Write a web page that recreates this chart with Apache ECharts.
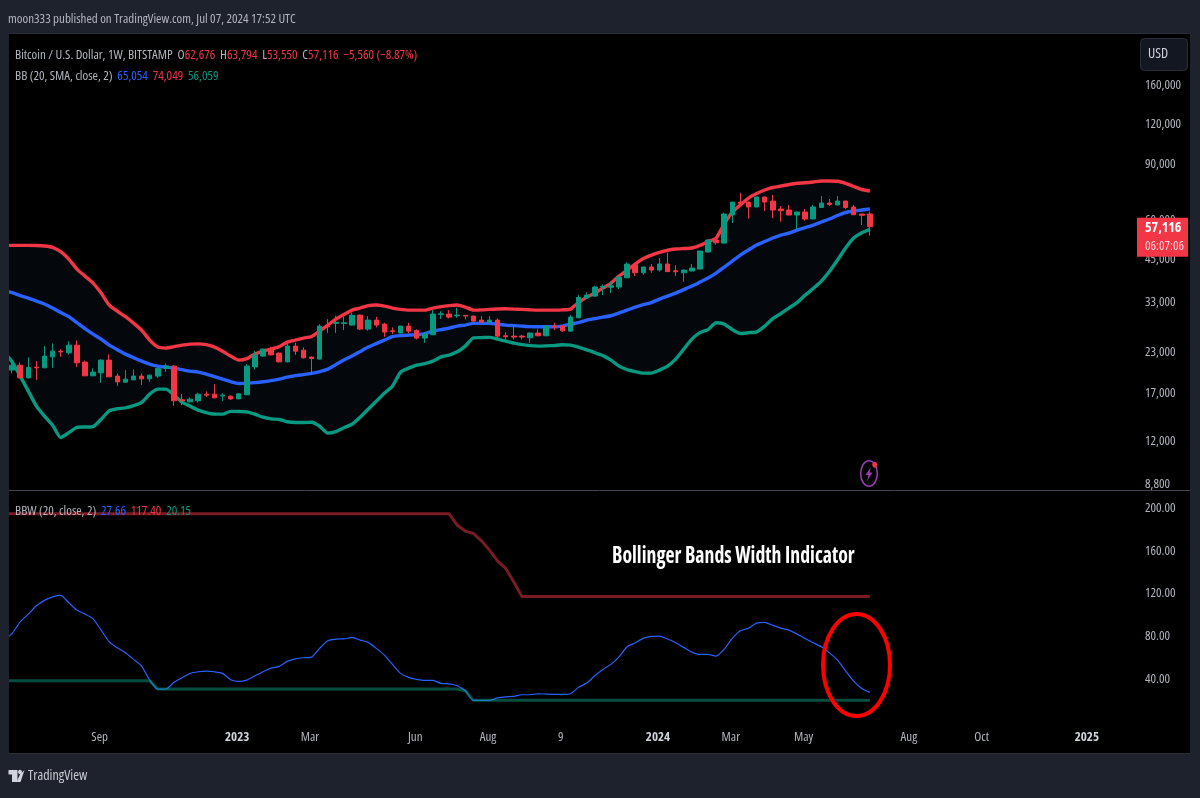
<!DOCTYPE html>
<html>
<head>
<meta charset="utf-8">
<title>BTC/USD weekly with Bollinger Bands and BBW</title>
<style>html,body{margin:0;padding:0;background:#1e222d}#chart{width:1200px;height:798px}</style>
<script src="https://cdn.jsdelivr.net/npm/echarts@6/dist/echarts.min.js"></script>
</head>
<body>
<div id="chart"></div>
<script>
// Weekly bars: [open, close, low, high]
const candles = [
[26600,20550,17600,26900],[20150,20890,19670,21420],[20890,19050,18970,21300],[19050,20550,18970,22100],
[20590,20490,18770,21510],[20490,22310,20490,23990],[22190,23130,20490,24460],[23130,23010,22190,23470],
[22850,24160,22580,24820],[24160,21250,20630,25000],[21360,19330,19300,21620],[19330,19860,19300,20400],
[19760,21670,18370,21800],[21670,19190,19150,22580],[19290,18500,17970,19670],[18460,18870,18420,20150],
[18770,19290,18750,20250],[19290,18910,18100,19670],[18910,19430,18500,19480],[19290,20400,19050,20550],
[20400,20780,19900,21150],[20740,16120,15540,20890],[16240,16120,15620,16920],[16000,16320,15930,16520],
[16120,16920,15930,17100],[16920,16800,16590,17260],[16920,16470,16450,18190],[16710,16800,16120,17020],
[16680,16350,16230,16760],[16350,16960,16330,17050],[16840,20740,16820,21050],[20630,22470,20250,23180],
[22310,23470,22190,23590],[23420,22520,22420,23870],[22800,21400,21300,22910],[21400,23990,21300,24930],
[23990,23130,22520,24570],[23300,22030,21930,23770],[22150,21930,19430,22250],[21830,27750,21750,28150],
[27890,27610,26420,29190],[28300,28510,26420,29910],[28300,28420,26950,29700],[27950,30000,27900,30580],
[30060,27150,27010,30150],[27150,28980,26820,29840],[28980,27950,27490,29700],[28150,26570,25670,28420],
[26810,26700,26180,27490],[26380,27750,26320,27800],[27750,26750,26320,28420],[26890,25430,25190,27090],
[25430,26180,24570,26510],[26050,30280,26000,31170],[30220,30350,29260,30910],[30280,29620,29320,31170],
[29910,30060,29470,31700],[30000,29840,29130,30050],[29840,28770,28620,29900],[28980,28560,28420,29840],
[28560,28980,28540,29840],[28980,25800,25430,29340],[25860,25670,25190,26570],[25800,25620,25190,27890],
[25800,25620,25190,26050],[25490,26380,24570,26510],[26380,25860,25800,27090],[25860,27750,25840,27810],
[27750,27550,26950,28420],[27750,26810,26570,27950],[26750,29620,26700,30060],[29470,34190,29430,34760],
[34020,34760,33790,35430],[34510,36850,34340,37200],[36850,37030,34760,37590],[36780,37200,35270,38290],
[36850,39550,36310,39920],[39440,43560,39270,44120],[43330,40880,39920,43350],[40880,42620,40300,42700],
[42620,41700,40880,43560],[41700,43560,41240,45500],[43560,41220,41200,47280],[41500,41200,39920,43140],
[40880,41700,38290,41900],[41400,42310,41380,43560],[42000,47870,41950,47950],[47520,51860,47300,52110],
[51860,50830,50120,52620],[50750,62650,50490,63250],[62200,68330,58690,68400],[68330,67660,67100,73100],
[68330,65920,60550,68400],[65920,70900,65850,71000],[70900,68330,64040,71000],[68850,64500,60770,71940],
[64970,64180,59250,66400],[64500,62200,62150,66900],[62200,63580,56060,63720],[63580,60420,59680,64970],
[60420,65920,60380,66900],[65700,67880,65650,71420],[67880,67090,66430,69870],[66900,68850,66850,71420],
[68850,65700,65000,68900],[65920,62330,62300,66900],[62650,62080,57840,62700],[62676,57116,53550,63794]
];

// Bollinger Bands (20, SMA, close, 2)
const bbUpper = [
49900,49900,49900,49900,49830,49650,49180,47650,45170,42000,39900,37930,35270,32330,30940,29700,28360,26950,
25060,23820,23650,23900,24160,24340,24390,24250,23820,23130,22310,21670,21910,22630,23130,23470,23900,24700,
25060,25430,25710,26750,27950,29190,30170,31170,31630,32210,32330,32090,31630,31330,31170,31170,31170,31630,
31980,32210,32330,31860,31170,31220,31330,31420,31470,31400,31330,31240,31170,31170,31170,31220,31400,32920,
34250,35270,36580,37860,39920,41700,43560,45330,46500,47450,48150,48570,48750,48930,49900,51300,52620,58260,
63580,66900,70370,72720,74600,75960,76800,77650,78330,78620,79080,79660,79660,79480,78330,76520,74870,74049
];
const bbBasis = [
35920,35400,34640,34020,33280,32570,31630,30610,29730,28460,27250,26180,25250,24160,23380,22630,22070,21510,
21050,20740,20590,20440,20220,20000,19860,19570,19220,18870,18530,18290,18330,18400,18510,18670,18870,19150,
19360,19500,19670,19930,20300,20970,21670,22310,23050,23820,24430,25060,25710,25900,25990,26090,26280,26750,
27050,27350,27750,27950,28300,28300,28300,28150,27950,27850,27750,27650,27610,27610,27610,27750,28150,28460,
28980,29300,29620,29910,30500,31170,31860,32450,32920,33770,34510,35270,36180,37120,38210,39340,40800,42620,
44510,46500,48220,50010,51300,52620,53780,54570,55770,56800,57840,59120,60420,61970,63350,64040,64500,65054
];
const bbLower = [
22960,21400,19290,17300,15510,14420,13500,12350,12790,13300,13330,13370,14100,14980,15220,15310,15560,15930,
16920,17550,17550,16800,15970,15510,15060,14790,14630,14630,14930,14920,14880,14630,14310,14140,14070,13850,
13770,13770,13800,13400,12750,12890,13260,13600,14310,15170,16080,17040,17930,19860,20440,20890,21120,21510,
22190,22470,23010,23990,25480,25520,25560,25250,24880,24520,24250,24070,23990,24040,24110,24220,24160,23820,
23350,22880,22390,21670,20740,20220,19930,19720,19720,20150,20740,21830,23470,25250,26460,27050,28420,28150,
27050,26280,26460,26610,27750,29300,30390,31630,32920,34760,36450,38480,41250,44840,48930,52620,54700,56059
];

// Bollinger Bands Width (20, close, 2) with its expansion and contraction levels
const bbw = [
76.5,82.8,93.6,100.8,108.6,113.7,117.0,118.3,111.4,104.6,100.8,96.4,85.9,74.9,69.3,64.6,58.5,52.2,
39.1,30.7,30.7,37.0,41.3,45.4,46.9,47.5,46.9,45.4,39.4,37.9,39.1,43.1,46.9,50.3,51.9,56.6,
59.0,60.0,60.6,68.8,75.9,77.5,77.7,79.0,76.5,74.4,68.8,62.5,53.8,45.4,41.6,39.8,38.8,38.8,
36.0,35.6,33.8,29.1,20.15,20.15,20.15,22.5,23.5,23.9,25.4,25.4,26.3,26.0,25.7,25.7,26.3,32.3,
36.3,43.1,49.1,53.8,60.9,70.3,74.0,78.1,80.0,80.3,77.5,74.0,69.7,65.3,63.1,63.1,61.6,68.1,
78.1,85.2,87.7,92.4,93.1,90.3,87.7,85.9,82.1,78.1,74.0,70.3,64.6,57.8,47.8,38.2,31.3,27.66
];
const bbwHigh = [
194.7,194.7,194.7,194.7,194.7,194.7,194.7,194.7,194.7,194.7,194.7,194.7,194.7,194.7,194.7,194.7,194.7,194.7,
194.7,194.7,194.7,194.7,194.7,194.7,194.7,194.7,194.7,194.7,194.7,194.7,194.7,194.7,194.7,194.7,194.7,194.7,
194.7,194.7,194.7,194.7,194.7,194.7,194.7,194.7,194.7,194.7,194.7,194.7,194.7,194.7,194.7,194.7,194.7,194.7,
194.7,194.7,184,178.5,176.3,169.4,160.7,150.4,143.6,130.8,117.4,117.4,117.4,117.4,117.4,117.4,117.4,117.4,
117.4,117.4,117.4,117.4,117.4,117.4,117.4,117.4,117.4,117.4,117.4,117.4,117.4,117.4,117.4,117.4,117.4,117.4,
117.4,117.4,117.4,117.4,117.4,117.4,117.4,117.4,117.4,117.4,117.4,117.4,117.4,117.4,117.4,117.4,117.4,117.4
];
const bbwLow = [
38.4,38.4,38.4,38.4,38.4,38.4,38.4,38.4,38.4,38.4,38.4,38.4,38.4,38.4,38.4,38.4,38.4,38.4,
38.4,30.7,30.7,30.7,30.7,30.7,30.7,30.7,30.7,30.7,30.7,30.7,30.7,30.7,30.7,30.7,30.7,30.7,
30.7,30.7,30.7,30.7,30.7,30.7,30.7,30.7,30.7,30.7,30.7,30.7,30.7,30.7,30.7,30.7,30.7,30.7,
30.7,30.7,30.7,29.1,20.15,20.15,20.15,20.15,20.15,20.15,20.15,20.15,20.15,20.15,20.15,20.15,20.15,20.15,
20.15,20.15,20.15,20.15,20.15,20.15,20.15,20.15,20.15,20.15,20.15,20.15,20.15,20.15,20.15,20.15,20.15,20.15,
20.15,20.15,20.15,20.15,20.15,20.15,20.15,20.15,20.15,20.15,20.15,20.15,20.15,20.15,20.15,20.15,20.15,20.15
];

// Axis ticks
const priceTicks = [160000,120000,90000,60000,45000,33000,23000,17000,12000,8800];
const widthTicks = [40,80,120,160,200];
const timeTicks = {
  '2022-09-05':'Sep','2023-01-02':'2023','2023-03-06':'Mar','2023-06-05':'Jun','2023-08-07':'Aug','2023-10-09':'9',
  '2024-01-01':'2024','2024-03-04':'Mar','2024-05-06':'May','2024-08-05':'Aug','2024-10-07':'Oct','2025-01-06':'2025'
};

// Week axis, running past the last bar into the empty right-hand margin
const firstWeek = Date.UTC(2022, 5, 13);
const weekCount = 147;
const weeks = Array.from({length: weekCount}, (_, i) => new Date(firstWeek + i * 7 * 864e5).toISOString().slice(0, 10));

const RED = '#f23645', GREEN = '#089981', BLUE = '#2962ff', GREY = '#b2b5be', FRAME = '#1e222d';
const FAMILY = "'Open Sans',sans-serif";
// Width keyword goes through the canvas font shorthand
const COND = 'condensed', COND_BOLD = 'bold condensed';

const tok = (fill) => ({fill, fontFamily: FAMILY, fontWeight: COND, fontSize: 13});
const legendRich = {g: tok(GREY), r: tok(RED), b: tok(BLUE), n: tok(GREEN)};

const frameRect = (x, y, width, height) => ({type:'rect', z:50, silent:true, shape:{x,y,width,height}, style:{fill:FRAME}});

const chart = echarts.init(document.getElementById('chart'), null, {renderer:'canvas'});
chart.setOption({
  animation: false,
  backgroundColor: '#000',
  grid: [
    {left:-3.36, right:10.5, top:34, height:456},
    {left:-3.36, right:10.5, top:491, height:230.9}
  ],
  xAxis: [
    {type:'category', gridIndex:0, data:weeks, show:false, boundaryGap:true},
    {type:'category', gridIndex:1, data:weeks, boundaryGap:true,
     axisLine:{show:false}, axisTick:{show:false}, splitLine:{show:false},
     axisLabel:{
       margin:9, padding:[0,3,0,0], fontFamily:FAMILY, fontWeight:COND, fontSize:13, color:GREY, hideOverlap:false,
       interval:(i, v) => timeTicks[v] !== undefined,
       formatter:(v) => /^\d{4}$/.test(timeTicks[v]) ? '{y|' + timeTicks[v] + '}' : timeTicks[v],
       rich:{y:{fontFamily:FAMILY, fontSize:13, fontWeight:COND_BOLD, color:'#d1d4dc'}}
     }}
  ],
  yAxis: [
    {type:'log', gridIndex:0, position:'right', min:8432, max:231800,
     axisLine:{show:false}, axisTick:{show:false}, splitLine:{show:false}, minorTick:{show:false},
     axisLabel:{inside:true, align:'left', margin:44.5, customValues:priceTicks, fontFamily:FAMILY, fontWeight:COND, fontSize:13, color:GREY,
       formatter:(v) => Math.round(v).toLocaleString('en-US')}},
    {type:'value', gridIndex:1, position:'right', min:0, max:216,
     axisLine:{show:false}, axisTick:{show:false}, splitLine:{show:false},
     axisLabel:{inside:true, align:'left', margin:44.5, customValues:widthTicks, fontFamily:FAMILY, fontWeight:COND, fontSize:13, color:GREY,
       formatter:(v) => v.toFixed(2)}}
  ],
  series: [
    // Shaded region between the outer bands
    {type:'custom', xAxisIndex:0, yAxisIndex:0, z:1, silent:true, data:[[0, 0]],
     renderItem:(params, api) => {
       const pts = [];
       bbUpper.forEach((v, i) => pts.push(api.coord([i, v])));
       for (let i = bbLower.length - 1; i >= 0; i--) pts.push(api.coord([i, bbLower[i]]));
       return {type:'polygon', shape:{points:pts}, style:{fill:'#04080d'}};
     }},
    {type:'line', name:'BB upper', xAxisIndex:0, yAxisIndex:0, z:2, data:bbUpper, showSymbol:false, smooth:0.2, lineStyle:{color:RED, width:3.4}},
    {type:'line', name:'BB basis', xAxisIndex:0, yAxisIndex:0, z:2, data:bbBasis, showSymbol:false, smooth:0.2, lineStyle:{color:BLUE, width:3.4}},
    {type:'line', name:'BB lower', xAxisIndex:0, yAxisIndex:0, z:2, data:bbLower, showSymbol:false, smooth:0.2, lineStyle:{color:GREEN, width:3.4}},
    {type:'candlestick', xAxisIndex:0, yAxisIndex:0, z:3, barWidth:5, data:candles,
     itemStyle:{color:GREEN, color0:RED, borderColor:GREEN, borderColor0:RED, borderWidth:1}},
    // Last-price tag on the price scale
    {type:'custom', xAxisIndex:0, yAxisIndex:0, z:20, silent:true, clip:false, data:[[candles.length - 1, candles[candles.length - 1][1]]],
     encode:{x:0, y:1},
     renderItem:(params, api) => {
       const y = api.coord([api.value(0), api.value(1)])[1];
       return {type:'group', children:[
         {type:'rect', shape:{x:1137, y:y - 9, width:51, height:39}, style:{fill:RED}},
         {type:'text', x:1145, y:y + 1.5, style:{text:Math.round(api.value(1)).toLocaleString('en-US'), fill:'#fff', fontFamily:FAMILY, fontWeight:COND_BOLD, fontSize:14, verticalAlign:'middle'}},
         {type:'text', x:1145, y:y + 19.5, style:{text:'06:07:06', fill:'#fbd5d9', fontFamily:FAMILY, fontWeight:COND, fontSize:13, verticalAlign:'middle'}}
       ]};
     }},
    {type:'line', name:'BBW high', xAxisIndex:1, yAxisIndex:1, z:2, data:bbwHigh, showSymbol:false, lineStyle:{color:'rgba(242,54,69,0.5)', width:3}},
    {type:'line', name:'BBW low', xAxisIndex:1, yAxisIndex:1, z:2, data:bbwLow, showSymbol:false, lineStyle:{color:'rgba(8,153,129,0.5)', width:3}},
    {type:'line', name:'BBW', xAxisIndex:1, yAxisIndex:1, z:1, data:bbw, showSymbol:false, smooth:0.2, lineStyle:{color:BLUE, width:1.2}}
  ],
  graphic: [
    // Page frame around the panels
    frameRect(0, 0, 1200, 34), frameRect(0, 753, 1200, 45), frameRect(0, 0, 9, 798), frameRect(1190, 0, 10, 798),
    {type:'line', z:51, silent:true, shape:{x1:8.5, y1:33.5, x2:1190.5, y2:33.5}, style:{stroke:'#2a2e39', lineWidth:1}},
    {type:'line', z:51, silent:true, shape:{x1:8.5, y1:753.5, x2:1190.5, y2:753.5}, style:{stroke:'#2a2e39', lineWidth:1}},
    // Divider between the two panes
    {type:'line', z:10, silent:true, shape:{x1:9, y1:490.5, x2:1190, y2:490.5}, style:{stroke:'#434651', lineWidth:1}},
    // Header and legends
    {type:'text', z:60, x:8, y:13, silent:true, style:{text:'moon333 published on TradingView.com, Jul 07, 2024 17:52 UTC', fill:GREY, fontFamily:FAMILY, fontWeight:COND, fontSize:13}},
    {type:'text', z:60, x:15, y:49, silent:true, style:{
      text:'{g|Bitcoin / U.S. Dollar, 1W, BITSTAMP  O}{r|62,676}{g|  H}{r|63,794}{g|  L}{r|53,550}{g|  C}{r|57,116}{r|  −5,560 (−8.87%)}', rich:legendRich}},
    {type:'text', z:60, x:15, y:70, silent:true, style:{
      text:'{g|BB (20, SMA, close, 2)  }{b|65,054}{g|  }{r|74,049}{g|  }{n|56,059}', rich:legendRich}},
    {type:'text', z:60, x:15, y:505, silent:true, style:{
      text:'{g|BBW (20, close, 2)  }{b|27.66}{g|  }{r|117.40}{g|  }{n|20.15}', rich:legendRich}},
    // Currency button
    {type:'rect', z:60, silent:true, shape:{x:1140.5, y:38.5, width:47, height:32, r:4}, style:{fill:'#131722', stroke:'#2a2e39', lineWidth:1}},
    {type:'text', z:61, x:1148, y:47, silent:true, style:{text:'USD', fill:'#d1d4dc', fontFamily:FAMILY, fontWeight:COND, fontSize:14}},
    // Annotations on the width pane
    {type:'text', z:60, x:612, y:545, silent:true, scaleX:0.86, style:{text:'Bollinger Bands Width Indicator', fill:'#fff', fontFamily:FAMILY, fontWeight:COND_BOLD, fontSize:23}},
    {type:'ellipse', z:60, silent:true, shape:{cx:856.5, cy:665, rx:33.5, ry:51}, style:{fill:'none', stroke:'#ff0000', lineWidth:4}},
    // Earnings-style event marker
    {type:'ellipse', z:60, silent:true, shape:{cx:869, cy:473.5, rx:8.3, ry:12.7}, style:{fill:'#000', stroke:'#9c3fb5', lineWidth:1.5}},
    {type:'polygon', z:61, silent:true, shape:{points:[[871,467],[865.5,475],[868.5,475],[867,481],[872.5,472.5],[869.5,472.5]]}, style:{fill:'#9c3fb5'}},
    {type:'ellipse', z:62, silent:true, shape:{cx:874.7, cy:464.7, rx:2.4, ry:3}, style:{fill:RED}},
    // Brand mark in the footer
    {type:'polygon', z:60, silent:true, shape:{points:[[8.5,770],[17.5,770],[17.5,782],[12,782],[12,774.5],[8.5,774.5]]}, style:{fill:'#d1d4dc'}},
    {type:'ellipse', z:60, silent:true, shape:{cx:20,cy:772,rx:2,ry:2.2}, style:{fill:'#d1d4dc'}},
    {type:'polygon', z:60, silent:true, shape:{points:[[24.5,770],[20.5,782],[16.5,782],[20,774.5]]}, style:{fill:'#d1d4dc'}},
    {type:'text', z:60, x:28, y:769, silent:true, style:{text:'TradingView', fill:'#c8cad0', fontFamily:FAMILY, fontWeight:COND, fontSize:14}}
  ]
});
</script>
</body>
</html>
